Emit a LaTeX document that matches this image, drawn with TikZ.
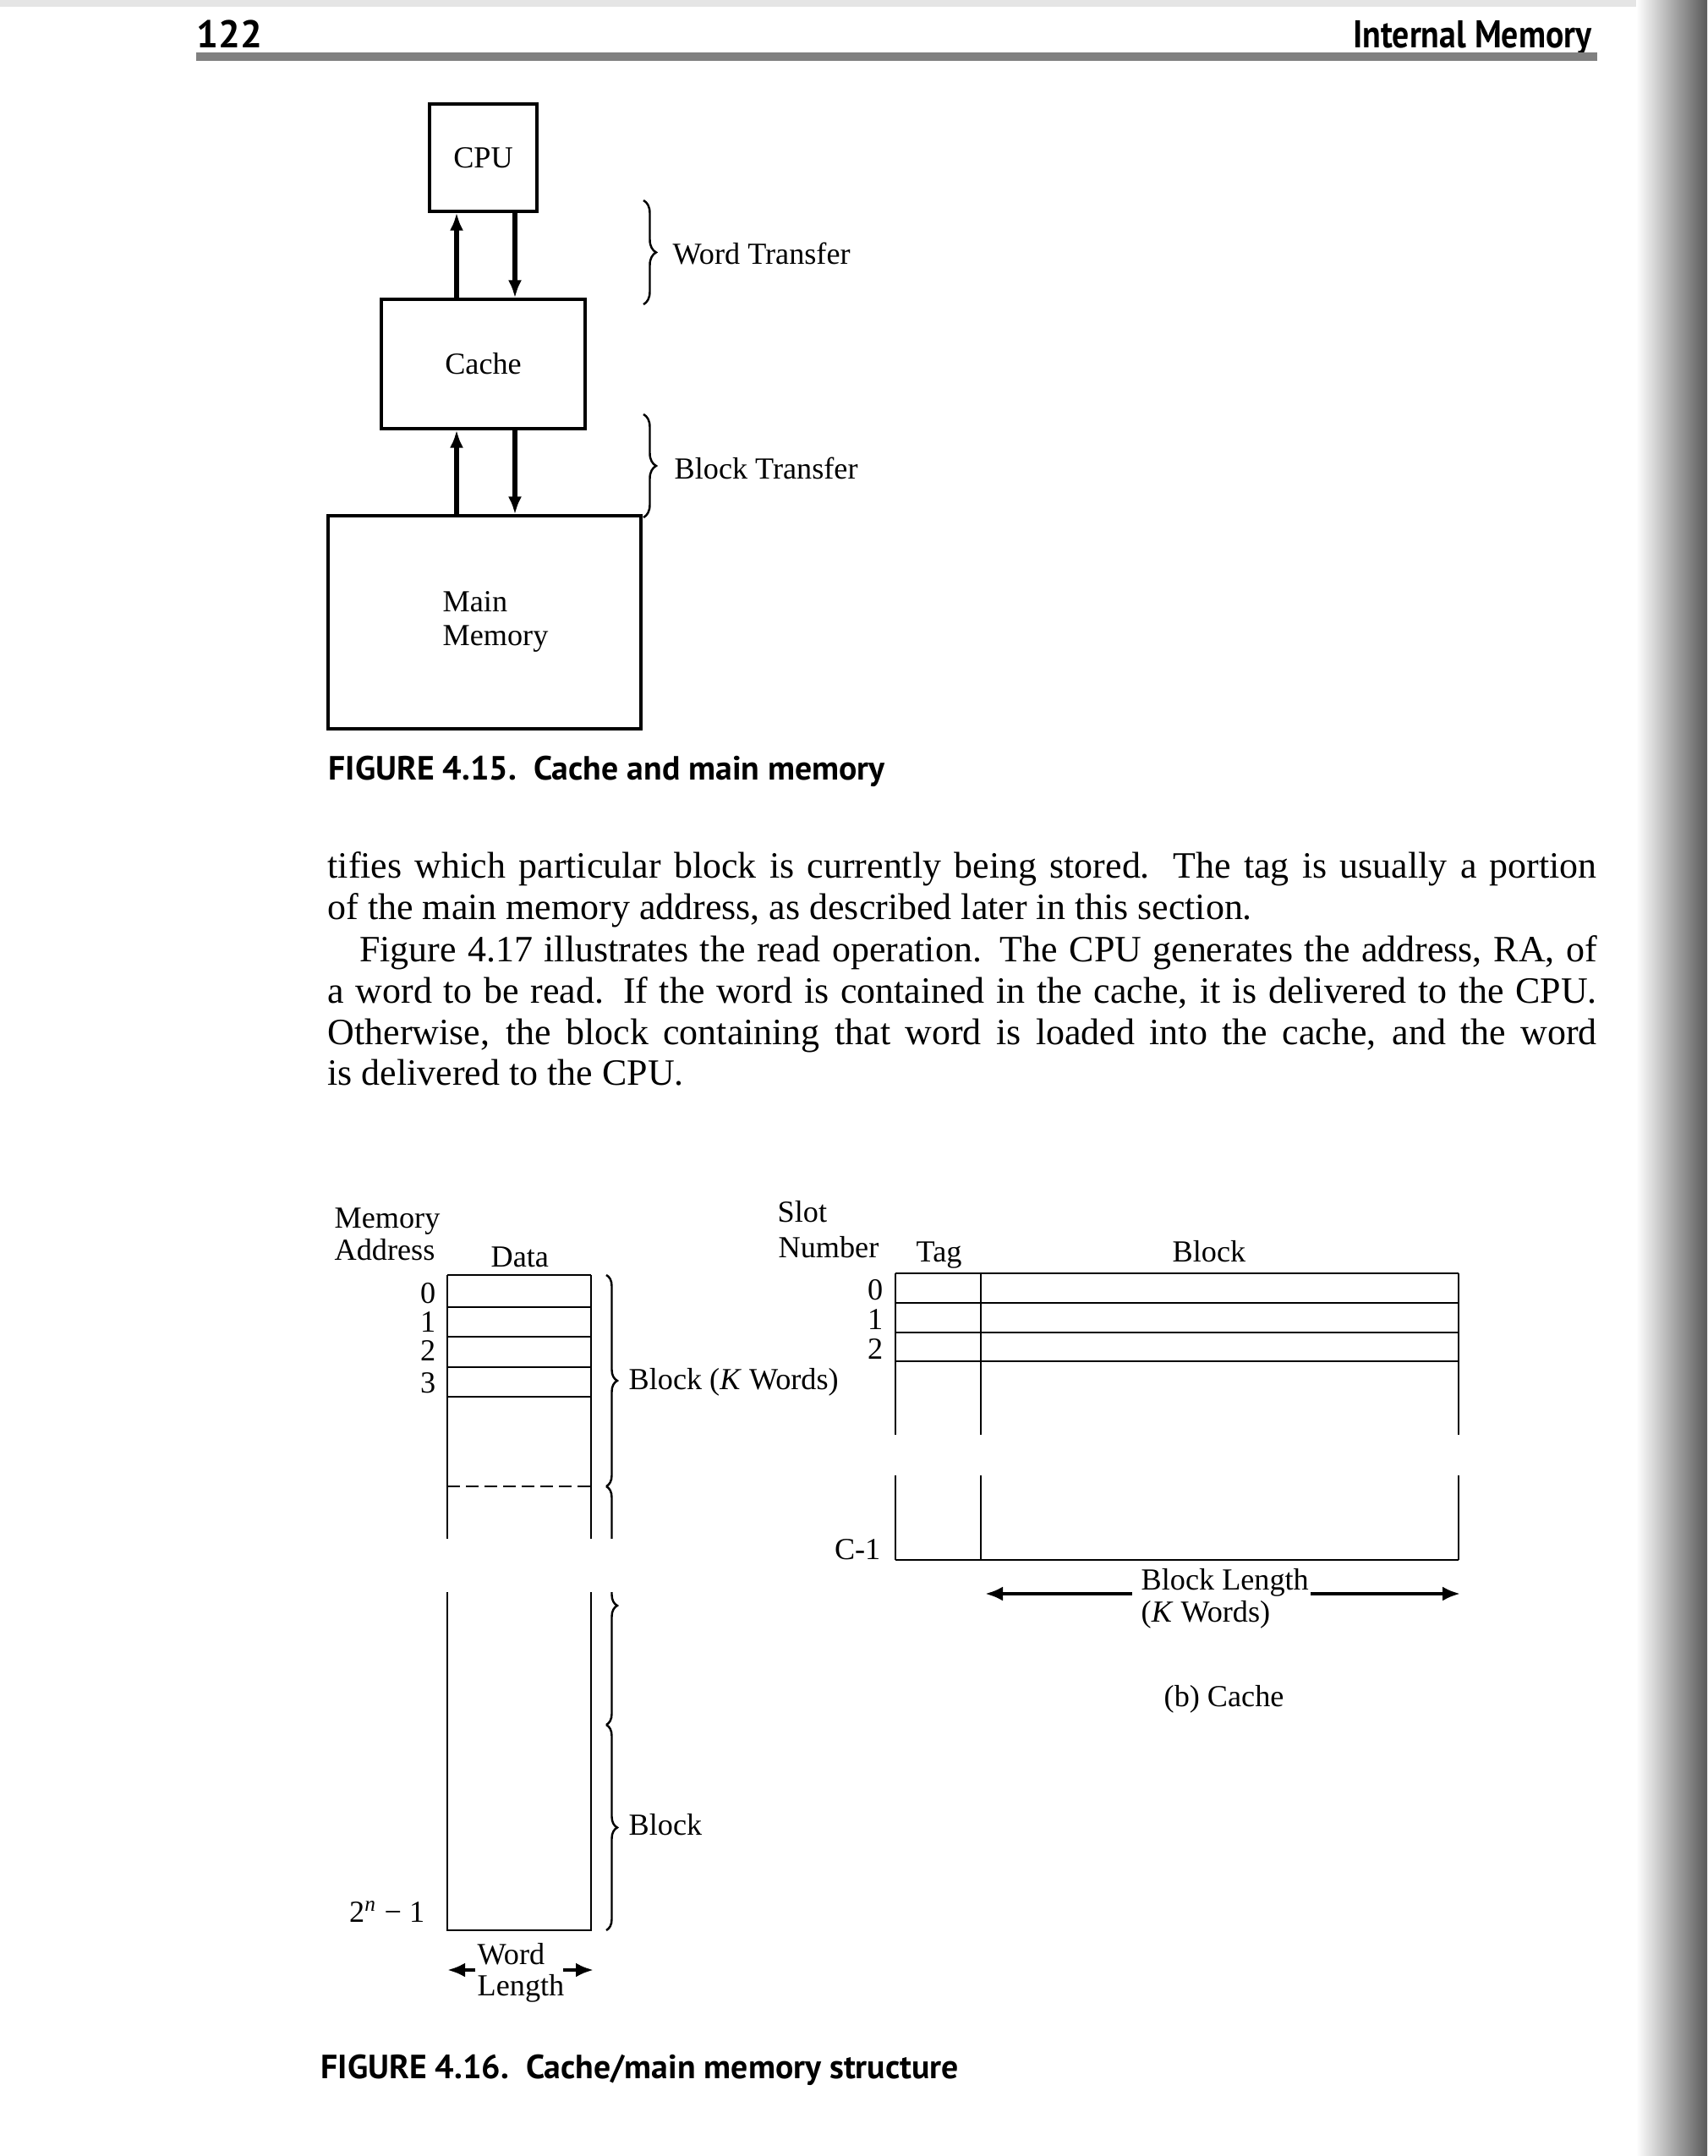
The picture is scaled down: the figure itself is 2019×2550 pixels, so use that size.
\documentclass[tikz,border=0pt]{standalone}
\usepackage{fontspec}
\setmainfont{Liberation Serif}
\newfontfamily\capfont{PT Sans}
\usetikzlibrary{arrows.meta,decorations.pathreplacing}
\begin{document}
\begin{tikzpicture}[x=0.1mm,y=-0.1mm,
  lbl/.style={inner sep=0pt, font=\fontsize{10.3}{12}\selectfont},
  para/.style={inner sep=0pt, font=\fontsize{12.5}{14}\selectfont},
  figcap/.style={inner sep=0pt, font=\capfont\bfseries\fontsize{11.3}{13}\selectfont},
  hdr/.style={inner sep=0pt, font=\capfont\bfseries\fontsize{13}{14}\selectfont},
  box/.style={draw, line width=0.9pt, inner sep=0pt, font=\fontsize{10.3}{12}\selectfont},
  arr/.style={line width=1.5pt, -{Latex[length=2.1mm,width=1.6mm]}},
  harr/.style={line width=1.4pt, -{Latex[length=2.1mm,width=1.7mm]}},
  brc/.style={decorate, decoration={brace, amplitude=1.5mm}, line width=0.7pt},
  brcb/.style={decorate, decoration={brace, amplitude=1.3mm}, line width=0.7pt},
  gridl/.style={line width=0.8pt}
]
\useasboundingbox (0,0) rectangle (2019,2550);
\fill[white] (0,0) rectangle (2019,2550);
\fill[black!10] (0,0) rectangle (2019,8);
\shade[left color=white,right color=black!65] (1935,0) rectangle (2019,2550);

% header
\node[hdr, anchor=base west] (pg) at (232,57) {122};
\node[hdr, anchor=base east] (chap) at (1883,57) {\scalebox{0.87}[1]{Internal Memory}};
\fill[black!50] (232,62) rectangle (1889,72);

% Figure 4.15
\node[box, minimum width=12.7mm, minimum height=12.7mm] (cpu) at (571.5,186.5) {CPU};
\node[box, minimum width=24.1mm, minimum height=15.3mm] (cache) at (571.5,430.5) {Cache};
\node[box, minimum width=37mm, minimum height=25.2mm] (mm) at (573,736) {};
\node[lbl, anchor=base west] (mm1) at (523,723) {Main};
\node[lbl, anchor=base west] (mm2) at (523,763) {Memory};
\coordinate (xu) at (540,0);
\coordinate (xd) at (609,0);
\draw[arr] (cache.north -| xu) -- (cpu.south -| xu);
\draw[arr] (cpu.south -| xd) -- (cache.north -| xd);
\draw[arr] (mm.north -| xu) -- (cache.south -| xu);
\draw[arr] (cache.south -| xd) -- (mm.north -| xd);
\coordinate (b1t) at (761,237);
\coordinate (b1b) at (761,360);
\coordinate (b2t) at (761,490);
\coordinate (b2b) at (761,612);
\draw[brc] (b1t) -- (b1b);
\draw[brc] (b2t) -- (b2b);
\node[lbl, anchor=base west] (wt) at (795,313) {Word Transfer};
\node[lbl, anchor=base west] (bt) at (797,566) {Block Transfer};
\node[figcap, anchor=base west] (cap15) at (388,922) {FIGURE 4.15.~~Cache and main memory};

% paragraph
\node[para, anchor=base west] (p1) at (387,1038) {\makebox[150.1mm][s]{tifies which particular block is currently being stored. The tag is usually a portion}};
\node[para, anchor=base west] (p2) at (387,1087) {of the main memory address, as described later in this section.};
\node[para, anchor=base west] (p3) at (424.5,1137) {\makebox[146.35mm][s]{Figure 4.17 illustrates the read operation. The CPU generates the address, RA, of}};
\node[para, anchor=base west] (p4) at (387,1186) {\makebox[150.1mm][s]{a word to be read. If the word is contained in the cache, it is delivered to the CPU.}};
\node[para, anchor=base west] (p5) at (387,1235) {\makebox[150.1mm][s]{Otherwise, the block containing that word is loaded into the cache, and the word}};
\node[para, anchor=base west] (p6) at (387,1283) {is delivered to the CPU.};

% Figure 4.16 (a) main memory
\node[lbl, anchor=base west] (ma1) at (395,1452) {Memory};
\node[lbl, anchor=base west] (ma2) at (395,1490) {Address};
\node[lbl, anchor=base west] (dat) at (580,1498) {Data};
\draw[gridl] (529,1508) -- (699,1508);
\foreach \yy in {1546,1581,1617,1652} \draw[gridl] (529,\yy) -- (699,\yy);
\draw[gridl, dash pattern=on 1.5mm off 0.7mm] (529,1758) -- (699,1758);
\draw[gridl] (529,1508) -- (529,1820) (699,1508) -- (699,1820);
\draw[gridl] (529,1883) -- (529,2283) -- (699,2283) -- (699,1883);
\node[lbl, anchor=base east] (a0) at (516,1541) {0};
\node[lbl, anchor=base east] (a1) at (516,1575) {1};
\node[lbl, anchor=base east] (a2) at (516,1609) {2};
\node[lbl, anchor=base east] (a3) at (516,1647) {3};
\node[lbl, anchor=base east] (an) at (503,2273) {2\textsuperscript{\itshape n} − 1};
\coordinate (c1t) at (717,1508);
\coordinate (c1b) at (717,1758);
\coordinate (c2b) at (717,2040);
\coordinate (c3b) at (717,2283);
\draw[brcb] (c1t) -- (c1b);
\draw[brcb] (c1b) -- (c2b);
\fill[white] (705,1820) rectangle (745,1883);
\draw[brcb] (c2b) -- (c3b);
\node[lbl, anchor=base west] (bk) at (743,1643) {Block (\textit{K} Words)};
\node[lbl, anchor=base west] (bk2) at (743,2170) {Block};
\node[lbl, anchor=base west] (wl1) at (564,2323) {Word};
\node[lbl, anchor=base west] (wl2) at (564,2360) {Length};
\coordinate (wlLs) at (562,2330);
\coordinate (wlLe) at (529,2330);
\coordinate (wlRs) at (666,2330);
\coordinate (wlRe) at (702,2330);
\draw[harr] (wlLs) -- (wlLe);
\draw[harr] (wlRs) -- (wlRe);

% (b) cache
\node[lbl, anchor=base west] (sl1) at (919,1445) {Slot};
\node[lbl, anchor=base west] (sl2) at (920,1487) {Number};
\node[lbl, anchor=base west] (tg) at (1083,1492) {Tag};
\node[lbl, anchor=base west] (blk) at (1386,1492) {Block};
\draw[gridl] (1059,1506) -- (1725,1506);
\foreach \yy in {1541,1576,1610} \draw[gridl] (1059,\yy) -- (1725,\yy);
\foreach \xx in {1059,1160,1725} {
  \draw[gridl] (\xx,1506) -- (\xx,1697);
  \draw[gridl] (\xx,1745) -- (\xx,1845);
}
\draw[gridl] (1059,1845) -- (1725,1845);
\node[lbl, anchor=base east] (s0) at (1045,1537) {0};
\node[lbl, anchor=base east] (s1) at (1045,1572) {1};
\node[lbl, anchor=base east] (s2) at (1045,1607) {2};
\node[lbl, anchor=base east] (sc) at (1042,1844) {C-1};
\node[lbl, anchor=base west] (bl1) at (1349,1880) {Block Length};
\node[lbl, anchor=base west] (bl2) at (1349,1918) {(\textit{K} Words)};
\coordinate (blLs) at (1339,1885);
\coordinate (blLe) at (1165,1885);
\coordinate (blRs) at (1550,1885);
\coordinate (blRe) at (1727,1885);
\draw[harr] (blLs) -- (blLe);
\draw[harr] (blRs) -- (blRe);
\node[lbl, anchor=base west] (bc) at (1376,2018) {(b) Cache};

\node[figcap, anchor=base west] (cap16) at (379,2458) {FIGURE 4.16.~~Cache/main memory structure};
\end{tikzpicture}
\end{document}
